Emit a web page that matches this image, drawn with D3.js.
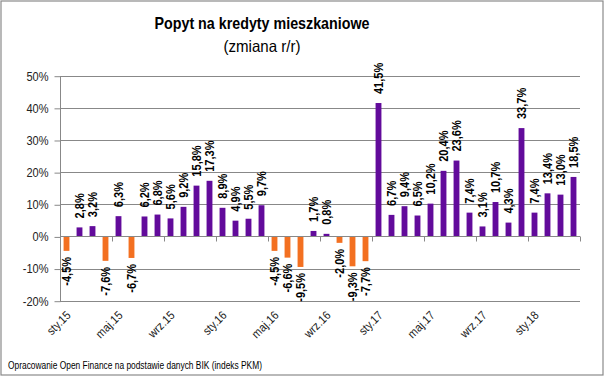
<!DOCTYPE html>
<html><head><meta charset="utf-8">
<script src="https://cdn.jsdelivr.net/npm/d3@7"></script>
<style>
html,body{margin:0;padding:0;background:#fff;}
svg{display:block;font-family:"Liberation Sans",Arial,sans-serif;}
</style></head><body>
<svg id="c" width="605" height="377"></svg>
<script>
const categories = ["sty.15","lut.15","mar.15","kwi.15","maj.15","cze.15","lip.15","sie.15","wrz.15","paź.15","lis.15","gru.15",
"sty.16","lut.16","mar.16","kwi.16","maj.16","cze.16","lip.16","sie.16","wrz.16","paź.16","lis.16","gru.16",
"sty.17","lut.17","mar.17","kwi.17","maj.17","cze.17","lip.17","sie.17","wrz.17","paź.17","lis.17","gru.17",
"sty.18","lut.18","mar.18","kwi.18"];
const values = [-4.5,2.8,3.2,-7.6,6.3,-6.7,6.2,6.8,5.6,9.2,15.8,17.3,
8.9,4.9,5.5,9.7,-4.5,-6.6,-9.5,1.7,0.8,-2.0,-9.3,-7.7,
41.5,6.7,9.4,6.5,10.2,20.4,23.6,7.4,3.1,10.7,4.3,33.7,
7.4,13.4,13.0,18.5];
const yTicks = [-20,-10,0,10,20,30,40,50];
const xTickLabels = ["sty.15","maj.15","wrz.15","sty.16","maj.16","wrz.16","sty.17","maj.17","wrz.17","sty.18"];
const title = "Popyt na kredyty mieszkaniowe";
const subtitle = "(zmiana r/r)";
const footer = "Opracowanie Open Finance na podstawie danych BIK (indeks PKM)";

const POS = "#620b9b", NEG = "#f37021", GRID = "#888888";
const svg = d3.select("#c");
const L = 60, R = 580, T = 75.7, B = 300.7;

svg.append("rect").attr("x",1).attr("y",1).attr("width",602).attr("height",374)
  .attr("fill","#fff").attr("stroke","#8a8a8a").attr("stroke-width",1.2);

const x = d3.scaleBand().domain(d3.range(values.length)).range([L,R]).paddingInner(0.55).paddingOuter(0.275);
const y = d3.scaleLinear().domain([-20,50]).range([B,T]);

// gridlines
svg.append("g").selectAll("line").data(yTicks).join("line")
  .attr("x1",L).attr("x2",R).attr("y1",d=>Math.round(y(d))+0.5).attr("y2",d=>Math.round(y(d))+0.5)
  .attr("stroke",GRID).attr("stroke-width",1);

// y axis
const yAxis = d3.axisLeft(y).tickValues(yTicks).tickFormat(d=>d+"%").tickSize(6).tickPadding(6);
const gy = svg.append("g").attr("transform",`translate(${L+0.5},0.5)`).call(yAxis);
gy.select(".domain").attr("stroke",GRID).attr("d",`M-0,${y(50)}V${y(-20)}`);
gy.selectAll(".tick line").attr("stroke",GRID);
gy.selectAll(".tick text").attr("font-size",12).attr("fill","#222").style("font-family","inherit")
  .attr("textLength",function(){return this.getComputedTextLength()*0.92;}).attr("lengthAdjust","spacingAndGlyphs");

// bars
const cx = i => x(i) + x.bandwidth()/2;
svg.append("g").selectAll("rect").data(values).join("rect")
  .attr("x",(d,i)=>x(i)).attr("width",x.bandwidth())
  .attr("y",d=>y(Math.max(0,d))).attr("height",d=>Math.abs(y(d)-y(0)))
  .attr("fill",d=>d>=0?POS:NEG);

// category axis at 0 with ticks every 4 categories
const step = x.step();
const y0 = Math.round(y(0))+0.5;
svg.append("line").attr("x1",L).attr("x2",R).attr("y1",y0).attr("y2",y0).attr("stroke",GRID);
svg.append("g").selectAll("line").data(d3.range(0,values.length+1,4)).join("line")
  .attr("x1",k=>Math.round(L+k*step)+0.5).attr("x2",k=>Math.round(L+k*step)+0.5)
  .attr("y1",y0).attr("y2",y0+5).attr("stroke",GRID);

// x labels
svg.append("g").selectAll("text").data(xTickLabels).join("text")
  .attr("transform",(d,j)=>`translate(${cx(categories.indexOf(d))+5},316) rotate(-45)`)
  .attr("text-anchor","end").attr("font-size",12).attr("fill","#222").text(d=>d)
  .attr("textLength",function(){return this.getComputedTextLength()*0.9;}).attr("lengthAdjust","spacingAndGlyphs");

// data labels
const fmt = v => v.toFixed(1).replace(".",",")+"%";
svg.append("g").selectAll("text").data(values).join("text")
  .attr("transform",(d,i)=>d>=0?`translate(${cx(i)},${y(d)-9}) rotate(-90)`:`translate(${cx(i)},${y(d)+6}) rotate(-90)`)
  .attr("text-anchor",d=>d>=0?"start":"end").attr("dy","0.35em")
  .attr("font-size",12).attr("font-weight","bold").attr("fill","#000").text(fmt)
  .attr("textLength",function(){return this.getComputedTextLength()*0.92;}).attr("lengthAdjust","spacingAndGlyphs");

// titles
svg.append("text").attr("x",262).attr("y",29).attr("text-anchor","middle")
  .attr("font-size",16.5).attr("font-weight","bold").text(title)
  .attr("textLength",215).attr("lengthAdjust","spacingAndGlyphs");
svg.append("text").attr("x",262).attr("y",52).attr("text-anchor","middle")
  .attr("font-size",16.5).text(subtitle)
  .attr("textLength",77).attr("lengthAdjust","spacingAndGlyphs");
svg.append("text").attr("x",8).attr("y",369).attr("font-size",10).attr("fill","#000").text(footer)
  .attr("textLength",254).attr("lengthAdjust","spacingAndGlyphs");
</script></body></html>
